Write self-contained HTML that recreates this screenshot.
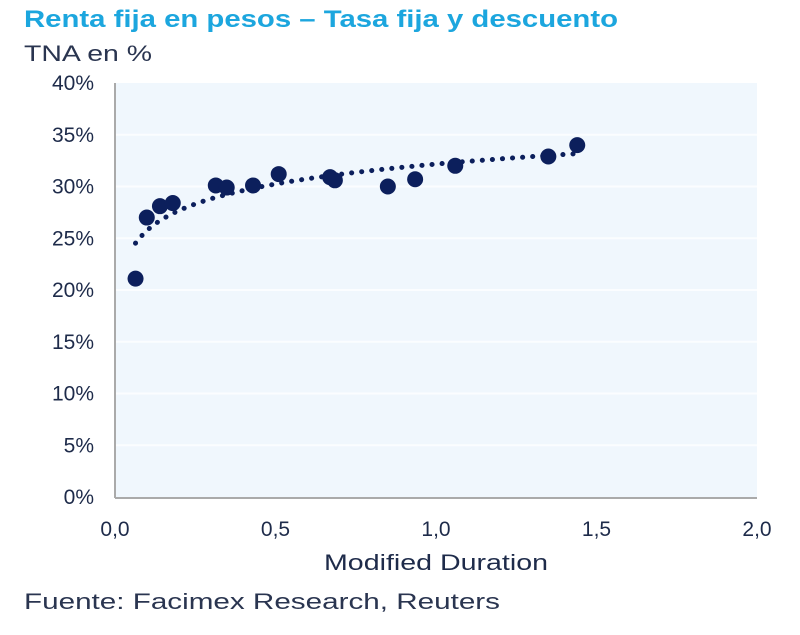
<!DOCTYPE html>
<html><head><meta charset="utf-8"><style>
body{margin:0;background:#fff;}
svg{display:block;font-family:"Liberation Sans",sans-serif;}
</style></head><body>
<svg id="chart" width="800" height="635" viewBox="0 0 800 635">
<text x="24" y="27" font-size="24" font-weight="bold" fill="#1ca6de" textLength="594" lengthAdjust="spacingAndGlyphs">Renta fija en pesos – Tasa fija y descuento</text>
<text x="24" y="61" font-size="22" fill="#2a3550" textLength="128" lengthAdjust="spacingAndGlyphs">TNA en %</text>
<rect x="116" y="83" width="641" height="414" fill="#f0f7fd"/>
<g id="grid"></g>
<g id="yticks"></g>
<g id="xticks"></g>
<line x1="115" y1="83" x2="115" y2="498" stroke="#aaa" stroke-width="2"/>
<line x1="115" y1="498" x2="757" y2="498" stroke="#aaa" stroke-width="2"/>
<g id="trend"></g>
<g id="points"></g>
<text x="324" y="570" font-size="22" fill="#1e2b4a" textLength="224" lengthAdjust="spacingAndGlyphs">Modified Duration</text>
<text x="24" y="609" font-size="22" fill="#2a3550" textLength="476" lengthAdjust="spacingAndGlyphs">Fuente: Facimex Research, Reuters</text>
</svg>
<script>
const durations=[0.064,0.099,0.14,0.18,0.314,0.348,0.43,0.51,0.67,0.685,0.85,0.935,1.06,1.35,1.44];
const rates=[21.1,27.0,28.1,28.4,30.1,29.9,30.1,31.2,30.9,30.6,30.0,30.7,32.0,32.9,34.0];
const yTicks=[0,5,10,15,20,25,30,35,40];
const xTicks=[0,0.5,1.0,1.5,2.0];
const xTickLabels=["0,0","0,5","1,0","1,5","2,0"];
const NS="http://www.w3.org/2000/svg";
function X(d){return 115+d*321;}
function Y(v){return 497-v*10.35;}
function mk(t,a,p){const e=document.createElementNS(NS,t);for(const k in a)e.setAttribute(k,a[k]);p.appendChild(e);return e;}
const grid=document.getElementById('grid'),yt=document.getElementById('yticks'),xt=document.getElementById('xticks');
yTicks.forEach(v=>{
 if(v>0&&v<40){const l=mk('line',{x1:116,x2:757,y1:Y(v),y2:Y(v),stroke:'#fbfdff','stroke-width':2},grid);
 
 }
 const t=mk('text',{x:94,y:Y(v)+7,'font-size':21,fill:'#1e2b4a','text-anchor':'end'},yt);
 t.textContent=v+'%';
 
 
});
xTicks.forEach((d,i)=>{
 const t=mk('text',{x:X(d),y:536,'font-size':21,fill:'#1e2b4a','text-anchor':'middle'},xt);
 t.textContent=xTickLabels[i];
 
 
});
let n=durations.length,sx=0,sy=0,sxx=0,sxy=0;
durations.forEach((d,i)=>{const l=Math.log(d);sx+=l;sy+=rates[i];sxx+=l*l;sxy+=l*rates[i];});
const b=(n*sxy-sx*sy)/(n*sxx-sx*sx),a=(sy-b*sx)/n;
const minD=Math.min(...durations),maxD=Math.max(...durations);
let pts=[];for(let k=0;k<=100;k++){const d=minD+(maxD-minD)*k/100;pts.push(X(d).toFixed(1)+','+Y(a+b*Math.log(d)).toFixed(1));}
const tl=mk('polyline',{points:pts.join(' '),fill:'none',stroke:'#0c1f5c','stroke-width':5,'stroke-dasharray':'0.1 10','stroke-linecap':'round'},document.getElementById('trend'));


const pg=document.getElementById('points');
durations.forEach((d,i)=>{
 const c=mk('circle',{cx:X(d),cy:Y(rates[i]),r:8,fill:'#0c1f5c'},pg);
 
 
});
</script>
</body></html>
